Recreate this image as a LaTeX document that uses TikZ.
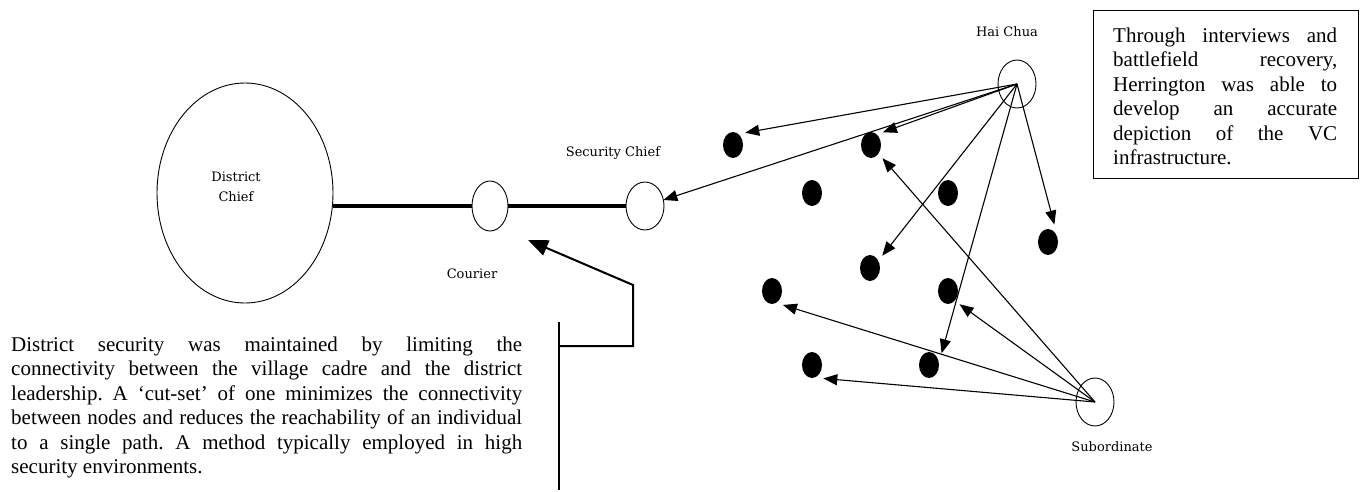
\documentclass[tikz,border=0pt]{standalone}
\usepackage{fontspec}
\setmainfont{Liberation Serif}
\newfontfamily\labelfont{DejaVu Serif}
\usetikzlibrary{arrows.meta,shapes.geometric}
\newcommand{\jline}[1]{\hbox to \linewidth{\spaceskip=0.25em plus 1fil\relax\xspaceskip=0.25em plus 1fil\relax #1}}
\newcommand{\lline}[1]{\hbox to \linewidth{\spaceskip=0.25em\relax\xspaceskip=0.25em\relax #1\hfil}}
\begin{document}
\begin{tikzpicture}[x=1pt,y=-1pt,
  oval/.style={draw, ellipse, line width=0.9pt, inner sep=0pt, outer sep=0pt},
  dot/.style={ellipse, fill=black, minimum width=20pt, minimum height=26pt, inner sep=0pt, outer sep=6pt},
  lbl/.style={font=\labelfont\fontsize{13}{20}\selectfont, inner sep=0pt},
  link/.style={line width=4pt},
  rel/.style={line width=1.1pt, -{Triangle[length=14pt,width=11pt]}},
  callout/.style={line width=2pt},
  body/.style={font=\fontsize{21}{24.5}\selectfont, inner sep=0pt, anchor=base west}
]
\useasboundingbox (0,0) rectangle (1360,491);

% main chain
\node[oval, minimum width=176pt, minimum height=220pt] (dc) at (245,193) {};
\node[lbl, align=center] (dct) at (236,187) {District\\Chief};
\node[oval, minimum width=36pt, minimum height=50pt] (cou) at (490,206) {};
\node[oval, minimum width=38pt, minimum height=48pt] (sec) at (645,206) {};
\node[oval, minimum width=38pt, minimum height=48pt] (hai) at (1017,84) {};
\node[oval, minimum width=38pt, minimum height=48pt] (sub) at (1095,402) {};

\node[lbl] (secl) at (613,153) {Security Chief};
\node[lbl] (coul) at (472,274) {Courier};
\node[lbl] (hail) at (1007,32) {Hai Chua};
\node[lbl] (subl) at (1112,447) {Subordinate};

\draw[link] (cou.west) -- (cou.west -| dc.east);
\draw[link] (cou.east) -- (sec.west);

% village cadre
\node[dot] (d1) at (733,145) {};
\node[dot] (d2) at (871,145) {};
\node[dot] (d3) at (812,193) {};
\node[dot] (d4) at (948,193) {};
\node[dot] (d5) at (1048,242) {};
\node[dot] (d6) at (870,268) {};
\node[dot] (d7) at (772,291) {};
\node[dot] (d8) at (948,291) {};
\node[dot] (d9) at (812,365) {};
\node[dot] (d10) at (929,365) {};

\draw[rel] (hai.center) -- (sec);
\draw[rel] (hai.center) -- (d1.45);
\draw[rel] (hai.center) -- (d2.47);
\draw[rel] (hai.center) -- (d6.45);
\draw[rel] (hai.center) -- (d10.43);
\draw[rel] (hai.center) -- (d5.70);
\draw[rel] (sub.center) -- (d2.-49);
\draw[rel] (sub.center) -- (d8.-49);
\draw[rel] (sub.center) -- (d7.-52);
\draw[rel] (sub.center) -- (d9.-50);

% callout bracket
\coordinate (cA) at (559,322);
\coordinate (cB) at (559,490);
\coordinate (cJ) at (559,346);
\coordinate (cK) at (633,346);
\coordinate (cL) at (633,285);
\coordinate (ctip) at (528,240);
\draw[callout] (cA) -- (cB);
\draw[callout, -{Triangle[length=20pt,width=16pt]}] (cJ) -- (cK) -- (cL) -- (ctip);

% text box
\node[draw, line width=1.2pt, minimum width=265pt, minimum height=168pt, anchor=north west, inner sep=0pt] (box) at (1093,10) {};
\node[body, text width=224pt] (boxtext) at (1113,42) {%
\jline{Through interviews and}\par
\jline{battlefield recovery,}\par
\jline{Herrington was able to}\par
\jline{develop an accurate}\par
\jline{depiction of the VC}\par
\lline{infrastructure.}};

% note
\node[body, text width=511pt] (note) at (11,351) {%
\jline{District security was maintained by limiting the}\par
\jline{connectivity between the village cadre and the district}\par
\jline{leadership. A ‘cut-set’ of one minimizes the connectivity}\par
\jline{between nodes and reduces the reachability of an individual}\par
\jline{to a single path. A method typically employed in high}\par
\lline{security environments.}};
\end{tikzpicture}
\end{document}
